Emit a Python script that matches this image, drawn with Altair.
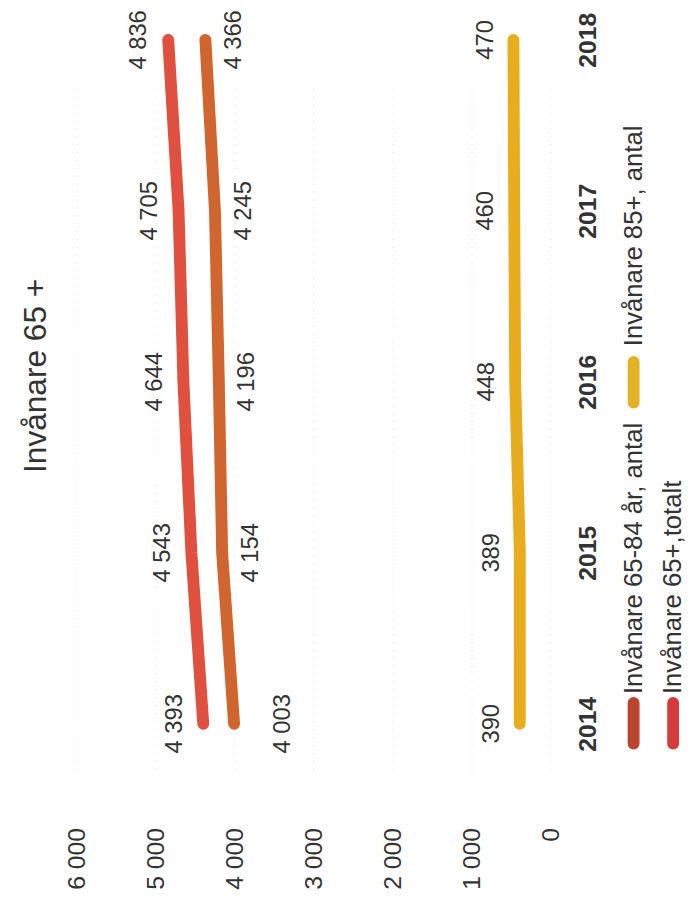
import altair as alt
import pandas as pd

years = ["2014", "2015", "2016", "2017", "2018"]
total_65 = [4393, 4543, 4644, 4705, 4836]
age_65_84 = [4003, 4154, 4196, 4245, 4366]
age_85 = [390, 389, 448, 460, 470]

series_names = ["Invånare 65-84 år, antal", "Invånare 85+, antal", "Invånare 65+,totalt"]
line_colors = ["#d1652f", "#e7ad1f", "#e0503f"]
swatch_colors = ["#b9452c", "#e2b224", "#d63b3b"]
value_ticks = [0, 1000, 2000, 3000, 4000, 5000, 6000]

FONT = "Liberation Sans"

rows = []
for name, vals in zip(series_names, [age_65_84, age_85, total_65]):
    for y, v in zip(years, vals):
        rows.append({"series": name, "year": y, "value": v,
                     "label": f"{v:,}".replace(",", " ")})
df = pd.DataFrame(rows)

x_enc = alt.X("value:Q",
              scale=alt.Scale(domain=[0, 6000], reverse=True, nice=False),
              axis=alt.Axis(values=value_ticks, labelAngle=270, labelAlign="right",
                            labelBaseline="middle", labelPadding=32, ticks=False,
                            domain=False, grid=True, gridColor="#e8e8e8",
                            gridDash=[1, 7], gridWidth=1.5, labelFontSize=25,
                            labelFont=FONT, labelColor="#333333", title=None,
                            labelExpr="replace(format(datum.value, ','), ',', ' ')"))
y_scale = alt.Scale(type="point", range=[27, 719], padding=0)
y_enc = alt.Y("year:O", sort=years[::-1], scale=y_scale,
              axis=alt.Axis(orient="right", labelAngle=270, labelAlign="center",
                            labelBaseline="top", labelPadding=25, ticks=False,
                            domain=False, grid=False, labelFontSize=25,
                            labelFontWeight="bold", labelFont=FONT,
                            labelColor="#333333", title=None))
color_enc = alt.Color("series:N", scale=alt.Scale(domain=series_names, range=line_colors),
                      legend=None)

base = alt.Chart(df)
lines = base.mark_line(strokeWidth=12, strokeCap="round", strokeJoin="round").encode(
    x=x_enc, y=y_enc, color=color_enc, detail="series:N")

label_offsets = {series_names[0]: 29, series_names[1]: -28, series_names[2]: -29}
label_layers = []
for name in series_names:
    cond = alt.datum.series == name
    if name == series_names[0]:
        cond = (alt.datum.series == name) & (alt.datum.year != years[0])
    label_layers.append(
        base.transform_filter(cond)
        .mark_text(angle=270, align="center", baseline="middle", dy=label_offsets[name],
                   fontSize=24, font=FONT, color="#333333")
        .encode(x="value:Q", y=alt.Y("year:O", sort=years[::-1], scale=y_scale),
                text="label:N"))

# the first 65-84 label sits further out from its line
first_cond = (alt.datum.series == series_names[0]) & (alt.datum.year == years[0])
label_layers.append(
    base.transform_filter(first_cond)
    .mark_text(angle=270, align="center", baseline="middle", dy=50,
               fontSize=24, font=FONT, color="#333333")
    .encode(x="value:Q", y=alt.Y("year:O", sort=years[::-1], scale=y_scale),
            text="label:N"))

leg_df = pd.DataFrame({"series": series_names})
leg_pos = {series_names[0]: (564, 698, 739, 689),
           series_names[1]: (564, 353, 394, 337),
           series_names[2]: (604, 698, 739, 689)}
legend_layers = []
for name, sc in zip(series_names, swatch_colors):
    px, y1, y2, ty = leg_pos[name]
    sub = alt.Chart(leg_df).transform_filter(alt.datum.series == name)
    legend_layers.append(sub.mark_rule(strokeWidth=12, strokeCap="round", color=sc).encode(
        x=alt.value(px), y=alt.value(y1), y2=alt.value(y2)))
    legend_layers.append(sub.mark_text(angle=270, align="left", baseline="middle",
                                       fontSize=26, font=FONT, color="#333333").encode(
        x=alt.value(px), y=alt.value(ty), text="series:N"))

chart = alt.layer(lines, *label_layers, *legend_layers).properties(
    width=480, height=792,
    title=alt.TitleParams("Invånare 65 +", orient="left", anchor="middle",
                          fontSize=32, font=FONT, fontWeight="normal",
                          color="#333333", offset=12, dx=29),
    padding={"left": 69, "top": 0, "right": 136, "bottom": 93},
    autosize=alt.AutoSizeParams(type="none"),
).configure_view(stroke=None).resolve_scale(x="shared")

chart.save("out.html", embed_options={"renderer": "svg", "actions": False})
